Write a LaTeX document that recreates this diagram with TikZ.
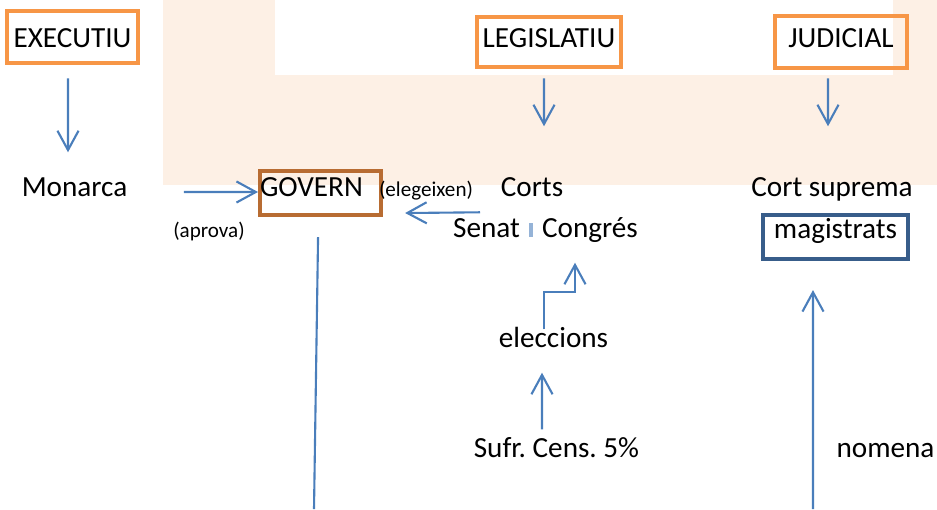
\documentclass[tikz,border=0pt]{standalone}
\usepackage{fontspec}
\setmainfont{Carlito}
\usetikzlibrary{arrows.meta}
\definecolor{vora}{RGB}{247,150,70}
\definecolor{marro}{RGB}{184,108,50}
\definecolor{blaufosc}{RGB}{56,93,138}
\definecolor{blaufletxa}{RGB}{74,126,187}
\definecolor{barra}{RGB}{149,179,215}
\definecolor{fons}{RGB}{253,240,229}
\frenchspacing
\begin{document}
\begin{tikzpicture}[x=0.01cm,y=-0.01cm,font=\fontsize{8.3}{10}\selectfont,
	txt/.style={inner sep=0pt,text height=.2cm,text depth=.05cm,anchor=base},
	petit/.style={txt,font=\fontsize{6}{7}\selectfont},
	poder/.style={draw=vora,line width=1.3pt,inner sep=0pt,anchor=base},
	fletxa/.style={draw=blaufletxa,line width=.6pt,-{Straight Barb[length=5.5pt,width=6pt]}},
	linia/.style={draw=blaufletxa,line width=.6pt}]
							\useasboundingbox (0,0) rectangle (937,509);
							\fill[fons] (163,0) rectangle (937,185);
							\fill[white] (275,0) rectangle (893,75);
							
							\node[poder,minimum width=1.31cm,text height=.36cm,text depth=.16cm] (exec) at (72.5,47) {EXECUTIU};
							\node[poder,minimum width=1.44cm,text height=.30cm,text depth=.20cm] (legis) at (549,47) {LEGISLATIU};
							\node[poder,minimum width=1.32cm,text height=.31cm,text depth=.21cm] (judi) at (841,47) {JUDICIAL};
							
							\node[txt] (monarca) at (74.5,196) {Monarca};
							\node[draw=marro,line width=1.15pt,inner xsep=0pt,inner ysep=0pt,text width=1.21cm,align=left,text height=.25cm,text depth=.19cm,anchor=base west] (govern) at (258,196) {GOVERN};
							\node[petit] (elegeixen) at (426,196) {(elegeixen)};
							\node[petit] (aprova) at (209,237) {(aprova)};
							\node[txt] (corts) at (532,196) {Corts};
							\node[txt] (senat) at (486.5,237) {Senat};
							\node[txt] (congres) at (590,237) {Congrés};
							\node[txt] (cortsup) at (832,196) {Cort suprema};
							\node[draw=blaufosc,line width=1.15pt,inner sep=0pt,minimum width=1.45cm,text height=.23cm,text depth=.21cm,anchor=base] (magis) at (835.5,238) {magistrats};
							\node[txt] (eleccions) at (553.5,347) {eleccions};
							\node[txt] (sufragi) at (556.5,457) {Sufr. Cens. 5\%};
							\node[txt] (nomena) at (885.5,457) {nomena};
							\coordinate (govpeu) at (314,509);
							\coordinate (nompeu) at (813,509);
							
							\draw[barra,line width=.9pt] (531,223) -- (531,237);
							
							\draw[fletxa] ([xshift=-.045cm,yshift=-.13cm]exec.south) -- ([xshift=-.065cm,yshift=.23cm]monarca.north);
							\draw[fletxa] ([xshift=-.05cm,yshift=-.09cm]legis.south) -- ([xshift=.12cm,yshift=.49cm]corts.north);
							\draw[fletxa] ([xshift=-.13cm,yshift=-.08cm]judi.south) -- ([xshift=-.04cm,yshift=.49cm]cortsup.north);
							\draw[fletxa] ([xshift=.56cm,yshift=-.035cm]monarca.east) -- ([yshift=.01cm]govern.west);
							\draw[fletxa] ([xshift=-.065cm,yshift=.04cm]senat.north) -- ([xshift=.22cm,yshift=.04cm]govern.south east);
							\draw[fletxa] ([xshift=-.095cm,yshift=-.03cm]eleccions.north) -- ++(0,-37) -| ([xshift=-.15cm,yshift=-.20cm]congres.south);
							\draw[fletxa] ([xshift=-.145cm,yshift=.07cm]sufragi.north) -- ([xshift=-.115cm,yshift=-.20cm]eleccions.south);
							\draw[fletxa] (nompeu) -- ([xshift=-.225cm,yshift=-.29cm]magis.south);
							\draw[linia] ([xshift=-.025cm,yshift=-.20cm]govern.south) -- (govpeu);
\end{tikzpicture}
\end{document}
